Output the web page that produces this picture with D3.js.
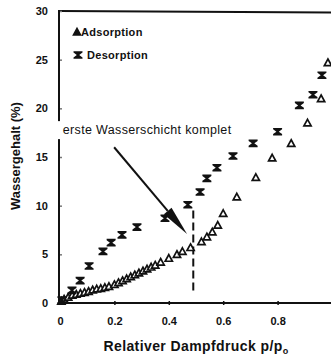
<!DOCTYPE html>
<html>
<head>
<meta charset="utf-8">
<script src="https://cdn.jsdelivr.net/npm/d3@7"></script>
<style>
  html, body { margin: 0; padding: 0; background: #fff; }
  svg { display: block; }
  text { font-family: "Liberation Sans", Arial, sans-serif; fill: #111; }
</style>
</head>
<body>
<svg id="chart" width="331" height="357"></svg>
<script>
// Sorption isotherm: water content vs. relative vapour pressure
const adsorption = [
  [0.005, 0.2], [0.015, 0.4], [0.03, 0.6], [0.045, 0.8], [0.06, 0.9],
  [0.075, 1.0], [0.09, 1.1], [0.105, 1.2], [0.12, 1.35], [0.135, 1.45],
  [0.15, 1.5], [0.165, 1.6], [0.18, 1.7], [0.20, 1.9], [0.215, 2.1],
  [0.23, 2.3], [0.245, 2.5], [0.26, 2.7], [0.275, 2.9], [0.29, 3.1],
  [0.305, 3.3], [0.32, 3.5], [0.335, 3.7], [0.35, 3.9], [0.37, 4.2],
  [0.40, 4.6], [0.43, 5.0], [0.45, 5.3], [0.48, 5.7], [0.52, 6.3],
  [0.54, 6.8], [0.56, 7.3], [0.58, 8.0], [0.60, 9.2], [0.65, 10.9],
  [0.72, 12.9], [0.78, 14.9], [0.85, 16.4], [0.91, 18.5], [0.96, 21.0],
  [0.985, 24.7]
];
const desorption = [
  [0.007, 0.3], [0.044, 1.3], [0.074, 2.3], [0.107, 3.8], [0.158, 5.3],
  [0.188, 6.2], [0.228, 7.0], [0.283, 7.8], [0.386, 8.7], [0.47, 10.1],
  [0.515, 11.4], [0.54, 12.8], [0.577, 13.9], [0.636, 15.1], [0.71, 16.4],
  [0.80, 17.6], [0.88, 20.3], [0.93, 21.4], [0.963, 23.4]
];
const xTicks = [0, 0.2, 0.4, 0.6, 0.8];
const xTickLabels = ["0", "0.2", "0.4", "0.6", "0.8"];
const yTicks = [0, 5, 10, 15, 20, 25, 30];
const seriesNames = ["Adsorption", "Desorption"];
const monolayerP = 0.49;            // dashed marker: first water layer complete
const monolayerRange = [1.1, 9.5];
const noteText = "erste Wasserschicht komplet";
const noteAnchor = [0.01, 17.8];
const arrowFrom = [0.199, 16.0];
const arrowTo = [0.467, 7.1];

const svg = d3.select("#chart");
const x = d3.scaleLinear().domain([0, 1]).range([60, 332]);
const y = d3.scaleLinear().domain([0, 30]).range([303, 11]);
const ink = "#111";
const fontStack = "'Liberation Sans', Arial, sans-serif";

// frame: top border and bottom axis
svg.append("line").attr("x1", x(0)).attr("x2", 331).attr("y1", y(30)).attr("y2", y(30) + 1.5)
  .attr("stroke", ink).attr("stroke-width", 2);

const xAxis = svg.append("g").attr("transform", `translate(0,${y(0)})`)
  .call(d3.axisBottom(x).tickValues(xTicks).tickSize(0).tickFormat((d, i) => xTickLabels[i]).tickPadding(14));
xAxis.select(".domain").remove();
xAxis.append("line").attr("x1", x(0) - 1).attr("x2", 331).attr("stroke", ink).attr("stroke-width", 2);
xAxis.selectAll(".tick").append("line").attr("y1", -2).attr("y2", 2).attr("stroke", ink).attr("stroke-width", 1.5);
xAxis.selectAll(".tick text").attr("font-size", 11).attr("font-weight", "bold").attr("fill", ink)
  .style("font-family", fontStack);

const yAxis = svg.append("g").attr("transform", `translate(${x(0) - 1},0)`)
  .call(d3.axisLeft(y).tickValues(yTicks).tickSize(0).tickPadding(11));
yAxis.select(".domain").remove();
yAxis.selectAll(".tick").append("line").attr("x1", 0).attr("x2", 3).attr("stroke", "#777").attr("stroke-width", 1.5);
yAxis.selectAll(".tick text").attr("font-size", 11).attr("font-weight", "bold").attr("fill", ink)
  .style("font-family", fontStack);
svg.append("line").attr("x1", x(0) - 1).attr("x2", x(0) - 1).attr("y1", y(30) - 1).attr("y2", y(0) + 1)
  .attr("stroke", ink).attr("stroke-width", 2);

// axis titles
svg.append("text").attr("x", 196).attr("y", 351).attr("text-anchor", "middle")
  .attr("font-size", 14).attr("font-weight", "bold").attr("letter-spacing", 0.4)
  .text("Relativer Dampfdruck p/p")
  .append("tspan").attr("font-size", 9).attr("dy", 3).text("o");
svg.append("text").attr("transform", "translate(20,156) rotate(-90)").attr("text-anchor", "middle")
  .attr("font-size", 13).attr("font-weight", "bold").text("Wassergehalt (%)");

// annotation text over a white backing that interrupts the axis
const noteLayer = svg.append("g");
const noteBg = noteLayer.append("rect").attr("fill", "#fff");
const note = noteLayer.append("text").attr("x", x(noteAnchor[0])).attr("y", y(noteAnchor[1]))
  .attr("dy", "0.35em").attr("font-size", 12.5).attr("letter-spacing", 0.35).text(noteText);
const nb = note.node().getBBox();
noteBg.attr("x", x(0) - 3).attr("y", nb.y - 2)
  .attr("width", nb.x + nb.width - x(0) + 5).attr("height", nb.height + 4);

// arrow to the monolayer point
const ax1 = x(arrowFrom[0]), ay1 = y(arrowFrom[1]), ax2 = x(arrowTo[0]), ay2 = y(arrowTo[1]);
const ang = Math.atan2(ay2 - ay1, ax2 - ax1);
const headLen = 30, headHalf = 5;
const bx = ax2 - headLen * Math.cos(ang), by = ay2 - headLen * Math.sin(ang);
svg.append("line").attr("x1", ax1).attr("y1", ay1).attr("x2", bx).attr("y2", by)
  .attr("stroke", ink).attr("stroke-width", 2);
svg.append("path")
  .attr("d", `M${ax2},${ay2} L${bx - headHalf * Math.sin(ang)},${by + headHalf * Math.cos(ang)} L${bx + headHalf * Math.sin(ang)},${by - headHalf * Math.cos(ang)} Z`)
  .attr("fill", ink);

// dashed monolayer line
svg.append("line").attr("x1", x(monolayerP)).attr("x2", x(monolayerP))
  .attr("y1", y(monolayerRange[1])).attr("y2", y(monolayerRange[0]))
  .attr("stroke", ink).attr("stroke-width", 2).attr("stroke-dasharray", "8,4");

// marker shapes
const triPath = "M0,-3.6 L3.6,3 L-3.6,3 Z";
const hourglassPath = "M-4.5,-3.8 L4.5,-3.8 L4.5,-2.4 L1.2,0 L4.5,2.4 L4.5,3.8 L-4.5,3.8 L-4.5,2.4 L-1.2,0 L-4.5,-2.4 Z";

svg.append("g").selectAll("path").data(adsorption).join("path")
  .attr("transform", d => `translate(${x(d[0])},${y(d[1])})`)
  .attr("d", triPath).attr("fill", "#fff").attr("stroke", ink).attr("stroke-width", 1.7);

svg.append("g").selectAll("path").data(desorption).join("path")
  .attr("transform", d => `translate(${x(d[0])},${y(d[1])})`)
  .attr("d", hourglassPath).attr("fill", ink);

// legend
const legend = svg.append("g");
legend.append("path").attr("transform", "translate(77,32)").attr("d", triPath)
  .attr("fill", ink).attr("stroke", ink).attr("stroke-width", 1.5);
legend.append("text").attr("x", 81).attr("y", 32).attr("dy", "0.35em")
  .attr("font-size", 11).attr("font-weight", "bold").attr("letter-spacing", 0.3).text(seriesNames[0]);
legend.append("path").attr("transform", "translate(78,55)").attr("d", hourglassPath).attr("fill", ink);
legend.append("text").attr("x", 87).attr("y", 55).attr("dy", "0.35em")
  .attr("font-size", 11).attr("font-weight", "bold").attr("letter-spacing", 0.3).text(seriesNames[1]);
</script>
</body>
</html>
